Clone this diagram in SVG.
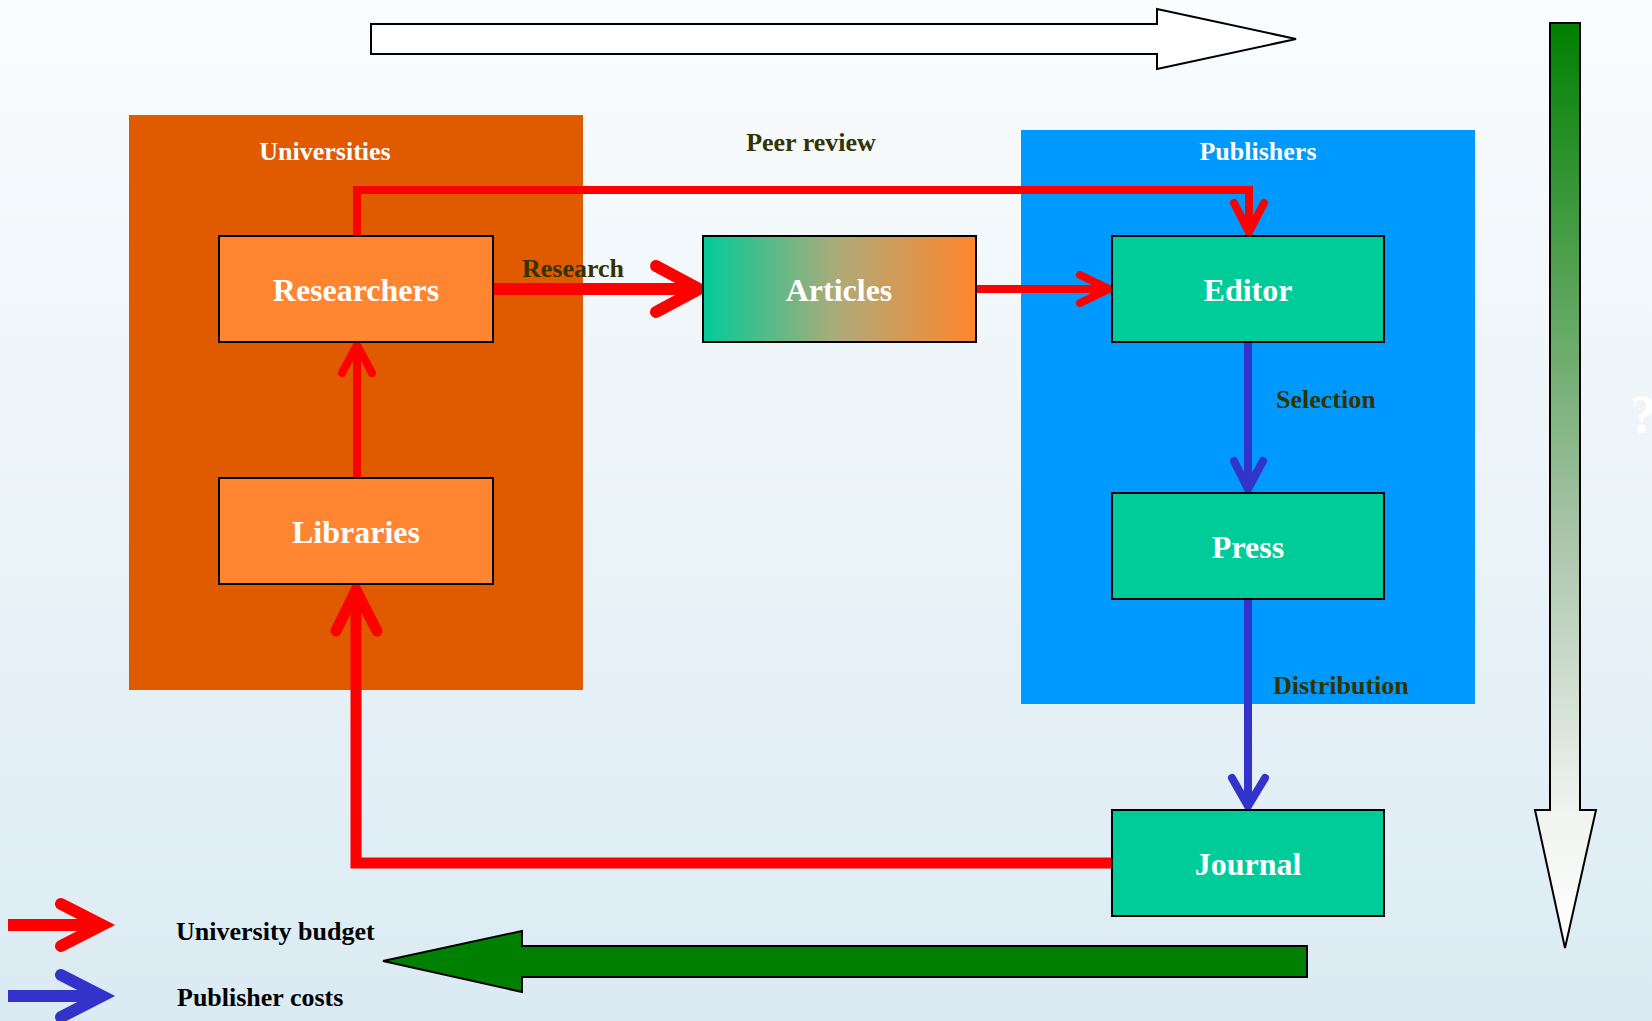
<svg xmlns="http://www.w3.org/2000/svg" width="1652" height="1021" viewBox="0 0 1652 1021">
<defs>
<linearGradient id="bg" x1="0" y1="0" x2="0" y2="1">
<stop offset="0" stop-color="#fafcfe"/>
<stop offset="1" stop-color="#dbebf3"/>
</linearGradient>
<linearGradient id="art" x1="0" y1="0" x2="1" y2="0">
<stop offset="0" stop-color="#00cc99"/>
<stop offset="0.5" stop-color="#b0aa78"/>
<stop offset="1" stop-color="#ff852c"/>
</linearGradient>
<linearGradient id="vg" x1="0" y1="0" x2="0" y2="1">
<stop offset="0" stop-color="#008000"/>
<stop offset="0.55" stop-color="#a8c4a8"/>
<stop offset="0.85" stop-color="#f0f3f0"/>
<stop offset="1" stop-color="#ffffff"/>
</linearGradient>
<style>
.lbl{font-family:"Liberation Serif","Times New Roman",serif;font-weight:bold;}
.node{fill:#ff8530;stroke:#000;stroke-width:2;}
.pnode{fill:#00cc99;stroke:#000;stroke-width:2;}
.ntext{font-size:32px;fill:#fff;text-anchor:middle;}
.gtext{font-size:26px;fill:#fff;text-anchor:middle;}
.dtext{font-size:26px;fill:#333300;}
.ktext{font-size:26px;fill:#000;}
.red{fill:none;stroke:#ff0000;stroke-linecap:round;stroke-linejoin:miter;}
.blue{fill:none;stroke:#3333cc;stroke-linecap:round;}
.line{stroke-linecap:butt;}
</style>
</defs>
<rect x="0" y="0" width="1652" height="1021" fill="url(#bg)"/>

<g id="top-arrow">
<polygon points="371,24 1157,24 1157,9 1296,39 1157,69 1157,54 371,54" fill="#fff" stroke="#000" stroke-width="2"/>
</g>
<g id="right-arrow">
<polygon points="1550,23 1580,23 1580,810 1596,810 1565,948 1535,810 1550,810" fill="url(#vg)" stroke="#000" stroke-width="2"/>
</g>
<g id="bottom-arrow">
<polygon points="1307,946 522,946 522,931 383,961 522,992 522,977 1307,977" fill="#008000" stroke="#000" stroke-width="2"/>
</g>

<g id="universities">
<rect x="129" y="115" width="454" height="575" fill="#e05a00"/>
<text class="lbl gtext" x="325" y="160">Universities</text>
</g>
<g id="publishers">
<rect x="1021" y="130" width="454" height="574" fill="#0099ff"/>
<text class="lbl gtext" x="1258" y="160">Publishers</text>
</g>

<g id="connectors">
<path class="red line" d="M357,236 V190 H1249 V228" stroke-width="8"/>
<path class="red" d="M1234,203 L1249,232 L1264,203" stroke-width="8"/>
<path class="red line" d="M493,289 H698" stroke-width="12"/>
<path class="red" d="M656,266 L699,289 L656,312" stroke-width="12"/>
<path class="red line" d="M976,289 H1108" stroke-width="8"/>
<path class="red" d="M1080,275 L1109,289 L1080,303" stroke-width="8"/>
<path class="red line" d="M357,478 V348" stroke-width="8"/>
<path class="red" d="M342,373 L357,345 L372,373" stroke-width="8"/>
<path class="red line" d="M1112,863 H356 V592" stroke-width="11"/>
<path class="red" d="M336,631 L356,590 L377,631" stroke-width="11"/>
<path class="blue line" d="M1248,342 V486" stroke-width="8"/>
<path class="blue" d="M1234,461 L1248,489 L1263,461" stroke-width="8"/>
<path class="blue line" d="M1248,599 V803" stroke-width="8"/>
<path class="blue" d="M1232,778 L1248,806 L1265,778" stroke-width="8"/>
</g>

<g id="researchers">
<rect class="node" x="219" y="236" width="274" height="106"/>
<text class="lbl ntext" x="356" y="301">Researchers</text>
</g>
<g id="libraries">
<rect class="node" x="219" y="478" width="274" height="106"/>
<text class="lbl ntext" x="356" y="543">Libraries</text>
</g>
<g id="articles">
<rect x="703" y="236" width="273" height="106" fill="url(#art)" stroke="#000" stroke-width="2"/>
<text class="lbl ntext" x="839" y="301">Articles</text>
</g>
<g id="editor">
<rect class="pnode" x="1112" y="236" width="272" height="106"/>
<text class="lbl ntext" x="1248" y="301">Editor</text>
</g>
<g id="press">
<rect class="pnode" x="1112" y="493" width="272" height="106"/>
<text class="lbl ntext" x="1248" y="558">Press</text>
</g>
<g id="journal">
<rect class="pnode" x="1112" y="810" width="272" height="106"/>
<text class="lbl ntext" x="1248" y="875">Journal</text>
</g>

<g id="labels">
<text class="lbl dtext" x="522" y="277">Research</text>
<text class="lbl dtext" x="811" y="151" text-anchor="middle">Peer review</text>
<text class="lbl dtext" x="1276" y="408">Selection</text>
<text class="lbl dtext" x="1273" y="694">Distribution</text>
<text class="lbl" x="1630" y="433" font-size="54" fill="#ffffff">?</text>
</g>

<g id="legend">
<path class="red line" d="M8,925 H100" stroke-width="12"/>
<path class="red" d="M61,904 L102,925 L61,946" stroke-width="12"/>
<text class="lbl ktext" x="176" y="940">University budget</text>
<path class="blue line" d="M8,996 H100" stroke-width="12"/>
<path class="blue" d="M61,975 L102,996 L61,1017" stroke-width="12"/>
<text class="lbl ktext" x="177" y="1006">Publisher costs</text>
</g>
</svg>
